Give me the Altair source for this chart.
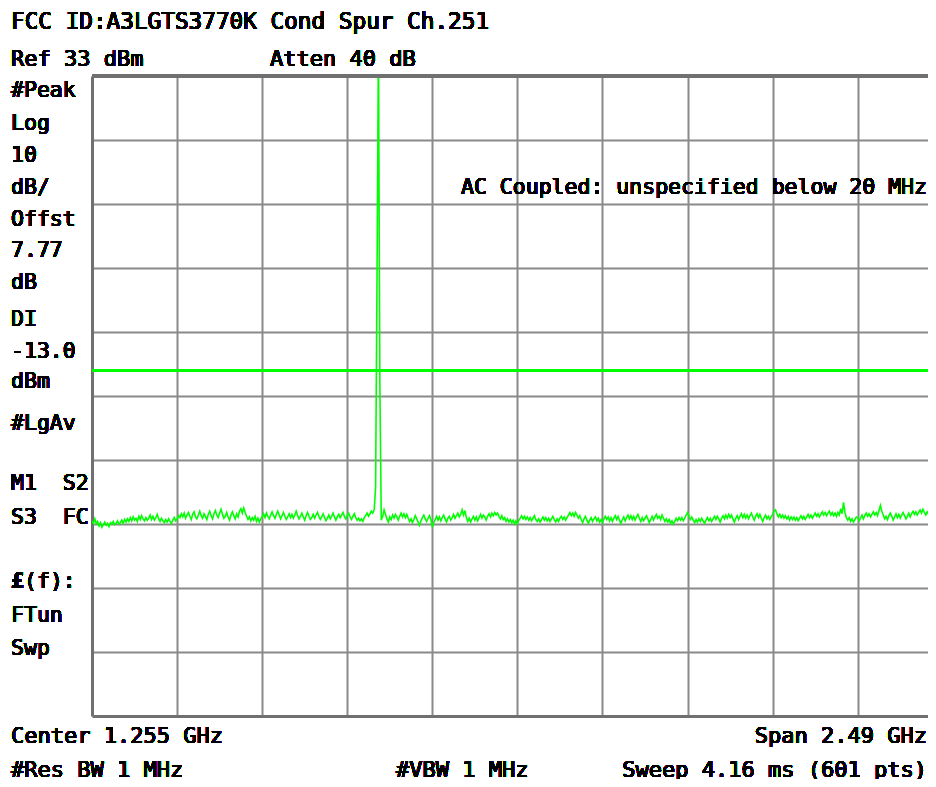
import altair as alt
import pandas as pd
import numpy as np

# ---------------- data ----------------
START_GHZ = 0.01
STOP_GHZ = 2.50
N_POINTS = 601
REF_LEVEL = 33.0       # dBm (top of screen)
DB_PER_DIV = 10.0
N_DIV = 10
DISPLAY_LINE = -13.0   # dBm

TRACE_DBM = [
    # i 0-199
    -36.5,-36.9,-36.2,-37.0,-36.6,-37.3,-36.8,-37.5,-37.1,-36.7,-37.2,-36.9,-37.4,-36.8,-37.0,-36.6,-37.1,-36.9,-36.5,-37.0,
    -36.8,-36.4,-36.9,-36.3,-36.7,-36.2,-36.6,-36.0,-36.5,-35.9,-36.4,-36.1,-36.6,-35.8,-36.3,-35.7,-36.2,-36.5,-36.0,-36.4,
    -36.1,-35.6,-36.3,-35.8,-36.4,-36.0,-35.5,-36.2,-36.6,-36.1,-36.5,-36.8,-36.3,-36.7,-36.2,-36.6,-36.9,-36.4,-36.0,-36.5,
    -36.2,-35.7,-36.0,-35.4,-35.9,-35.3,-36.1,-35.6,-35.2,-35.8,-36.3,-35.5,-35.1,-35.9,-36.2,-35.6,-35.0,-35.7,-36.1,-35.4,
    -35.8,-36.3,-35.5,-35.0,-35.7,-36.2,-35.4,-34.9,-35.6,-36.0,-35.3,-34.7,-35.5,-36.1,-35.8,-35.2,-35.9,-36.4,-35.6,-35.1,
    -35.7,-36.2,-35.4,-35.9,-35.0,-34.6,-35.3,-34.5,-35.2,-35.8,-36.3,-35.9,-36.5,-36.0,-36.4,-35.8,-36.6,-36.1,-36.7,-36.2,
    -35.9,-35.4,-36.0,-35.3,-35.8,-36.2,-35.6,-35.1,-35.7,-36.1,-35.5,-35.0,-35.6,-36.2,-35.7,-35.2,-35.8,-36.3,-35.9,-35.4,
    -36.0,-35.5,-36.1,-35.6,-35.0,-35.7,-36.2,-35.8,-35.3,-35.9,-36.4,-35.7,-35.2,-35.8,-36.3,-36.0,-35.5,-36.1,-35.6,-35.2,
    -35.8,-36.3,-35.9,-35.4,-36.0,-36.5,-36.1,-35.6,-36.2,-35.8,-35.3,-35.9,-36.4,-35.9,-35.5,-36.0,-35.6,-35.2,-35.8,-36.2,
    -35.7,-35.3,-35.9,-36.3,-35.8,-35.4,-36.0,-36.4,-36.1,-36.5,-36.2,-36.6,-36.0,-35.7,-35.3,-35.8,-35.4,-35.0,-35.3,-34.8,
    # i 200-204 : carrier (Ch.251)
    -31.3, 1.5, 38.0, -15.0, -36.4,
    # i 205-219
    -35.8,-34.8,-35.5,-36.2,-36.7,-35.9,-36.3,-35.6,-36.1,-35.5,-35.9,-36.4,-35.8,-35.3,-35.9,
    # i 220-579
    -35.4,-36.0,-35.5,-36.1,-36.6,-36.2,-36.8,-36.3,-35.7,-36.2,-36.7,-37.2,-36.5,-36.0,-35.6,-36.2,-36.6,-36.1,-35.7,-36.3,
    -37.5,-36.8,-36.3,-35.8,-36.4,-35.9,-36.5,-36.0,-35.6,-36.2,-36.7,-36.1,-35.8,-36.4,-36.0,-35.5,-36.1,-35.7,-35.3,-35.9,
    -35.5,-34.8,-35.6,-34.9,-36.0,-36.6,-36.1,-36.7,-36.2,-35.8,-36.4,-35.9,-36.5,-36.0,-35.5,-36.1,-35.6,-35.9,-36.4,-35.8,
    -35.4,-35.9,-35.3,-35.7,-35.2,-35.6,-35.3,-35.8,-36.2,-35.7,-36.3,-36.0,-36.6,-36.2,-36.7,-36.3,-36.8,-36.4,-37.0,-36.5,
    -36.9,-36.4,-36.1,-35.7,-36.2,-35.8,-36.3,-35.9,-36.4,-36.0,-36.5,-36.1,-35.7,-36.3,-36.6,-36.2,-36.7,-36.3,-35.9,-36.4,
    -36.0,-36.5,-36.1,-36.6,-36.2,-35.8,-36.3,-36.7,-36.2,-36.6,-36.1,-35.8,-36.3,-35.9,-36.4,-36.0,-35.6,-35.2,-35.7,-35.3,
    -35.8,-35.2,-35.6,-36.1,-35.7,-36.3,-36.8,-36.2,-35.8,-36.4,-36.9,-36.4,-36.0,-36.6,-36.2,-35.9,-36.5,-36.1,-36.7,-36.3,
    -36.8,-36.2,-35.8,-36.3,-35.9,-36.5,-36.0,-36.6,-36.1,-35.7,-36.3,-35.8,-36.4,-36.9,-36.3,-35.9,-36.5,-36.0,-35.6,-36.2,
    -35.7,-36.3,-35.8,-36.4,-35.9,-35.5,-36.1,-36.6,-36.0,-36.5,-36.1,-35.7,-36.2,-36.8,-36.3,-35.8,-36.4,-35.9,-35.5,-36.1,
    -35.8,-36.3,-35.6,-36.1,-36.6,-36.2,-36.7,-36.3,-36.9,-36.5,-37.0,-36.6,-36.1,-36.5,-36.0,-36.4,-36.0,-36.5,-36.1,-35.6,
    -35.2,-35.8,-36.3,-35.9,-36.4,-36.8,-36.3,-36.7,-36.2,-36.6,-36.1,-36.5,-36.9,-36.4,-36.0,-36.5,-36.1,-36.6,-36.2,-35.8,
    -36.3,-35.8,-36.2,-36.7,-36.1,-35.7,-36.2,-35.6,-36.1,-35.5,-36.0,-35.6,-36.2,-36.7,-36.1,-35.7,-36.3,-35.8,-35.4,-36.0,
    -35.5,-36.1,-35.6,-36.2,-35.7,-35.3,-35.9,-36.4,-35.8,-35.4,-36.0,-35.5,-36.1,-36.6,-36.0,-35.6,-36.2,-35.8,-36.3,-35.9,
    -35.5,-35.0,-34.8,-35.4,-35.9,-35.5,-36.0,-35.6,-36.1,-35.7,-36.2,-35.8,-36.4,-35.9,-36.3,-35.9,-36.4,-36.0,-36.5,-36.1,
    -35.7,-36.2,-35.8,-36.3,-35.9,-35.5,-36.0,-35.6,-36.1,-35.7,-35.3,-35.8,-35.4,-35.9,-35.5,-35.1,-35.6,-35.2,-35.7,-35.3,
    -35.0,-35.6,-35.2,-35.7,-35.3,-35.8,-35.2,-35.6,-34.6,-35.4,-33.6,-35.2,-36.0,-36.4,-36.0,-36.6,-36.2,-36.7,-36.3,-35.9,
    -36.0,-36.5,-36.1,-35.6,-36.2,-35.7,-35.3,-35.8,-35.4,-35.9,-35.5,-35.1,-35.6,-35.2,-35.7,-34.9,-34.1,-35.0,-35.6,-36.2,
    -35.8,-36.3,-35.7,-35.3,-35.8,-36.4,-35.9,-35.4,-36.0,-35.5,-36.1,-35.6,-35.2,-35.7,-36.2,-35.8,-35.3,-35.9,-35.4,-35.0,
    # i 580-600
    -35.5,-35.1,-35.6,-35.2,-34.8,-35.3,-34.7,-35.2,-35.6,-35.1,-35.5,-35.0,-35.4,-35.8,-35.3,-35.7,-35.2,-35.6,-35.1,-35.5,-35.3,
]

NB = "\u00a0"
TITLE = "FCC ID:A3LGTS3770K Cond Spur Ch.251"
REF_TEXT = "Ref 33 dBm"
ATTEN_TEXT = "Atten 40 dB"
AC_TEXT = "AC Coupled: unspecified below 20 MHz"
LEFT_LABELS = ["#Peak", "Log", "10", "dB/", "Offst", "7.77", "dB", "DI", "-13.0", "dBm",
               "#LgAv", "M1" + NB + NB + "S2", "S3" + NB + NB + "FC", "(f):", "FTun", "Swp"]
POUND = "\u00a3"
CENTER_TEXT = "Center 1.255 GHz"
SPAN_TEXT = "Span 2.49 GHz"
RBW_TEXT = "#Res BW 1 MHz"
VBW_TEXT = "#VBW 1 MHz"
SWEEP_TEXT = "Sweep 4.16 ms (601 pts)"

# ---------------- layout ----------------
PLOT_W = 836          # visible part of the graticule (the screenshot is cropped on the right)
FULL_W = 850.8        # full graticule width in px
PLOT_H = 640
FONT = "DejaVu Sans Mono"
GREEN = "#00ff00"
GRID = "#8a8a8a"
FRAME = "#707070"

freqs = np.linspace(START_GHZ, STOP_GHZ, N_POINTS)
trace = pd.DataFrame({"freq": freqs[:len(TRACE_DBM)], "level": TRACE_DBM})

div_ghz = (STOP_GHZ - START_GHZ) / N_DIV
x_max = START_GHZ + (STOP_GHZ - START_GHZ) * PLOT_W / FULL_W
bottom = REF_LEVEL - DB_PER_DIV * N_DIV
x_grid = [START_GHZ + div_ghz * k for k in range(1, N_DIV)]
y_grid = [REF_LEVEL - DB_PER_DIV * k for k in range(1, N_DIV)]

xs = alt.Scale(domain=[START_GHZ, x_max], nice=False, zero=False)
ys = alt.Scale(domain=[bottom, REF_LEVEL], nice=False, zero=False)

x_enc = alt.X("freq:Q", scale=xs, axis=alt.Axis(values=x_grid, grid=True, labels=False, ticks=False,
              domain=True, domainColor=FRAME, domainWidth=3, gridColor=GRID, gridWidth=2,
              gridOpacity=1, title=None))
y_enc = alt.Y("level:Q", scale=ys, axis=alt.Axis(values=y_grid, grid=True, labels=False, ticks=False,
              domain=True, domainColor=FRAME, domainWidth=3, gridColor=GRID, gridWidth=2,
              gridOpacity=1, title=None))

line = alt.Chart(trace).mark_line(color=GREEN, strokeWidth=1.6, clip=True).encode(x=x_enc, y=y_enc)

dl = alt.Chart(trace).mark_rule(color=GREEN, strokeWidth=1.5).encode(y=alt.datum(DISPLAY_LINE))
top_frame = alt.Chart(trace).mark_rule(color=FRAME, strokeWidth=3).encode(y=alt.datum(REF_LEVEL))


def label(txt, x, y, size=22.0, align="left", weight="normal"):
    return alt.Chart(trace).mark_text(
        font=FONT, fontSize=size, align=align, baseline="alphabetic",
        color="#000000", fontWeight=weight
    ).encode(x=alt.value(x), y=alt.value(y), text=alt.value(txt))


OX, OY = 92, 76        # page position of the graticule's top-left corner
LX = 11 - OX
RX = 927 - OX
texts = [
    label(TITLE, LX, 29.3 - OY, 22.7),
    label(REF_TEXT, LX, 66 - OY, 22.0),
    label(ATTEN_TEXT, 270 - OX, 66 - OY, 22.0),
    label(AC_TEXT, RX, 194.3 - OY, 21.5, align="right"),
    label(CENTER_TEXT, LX, 743 - OY, 22.0),
    label(SPAN_TEXT, RX, 743 - OY, 22.0, align="right"),
    label(RBW_TEXT, LX, 777 - OY, 22.0),
    label(VBW_TEXT, 396 - OX, 777 - OY, 22.0),
    label(SWEEP_TEXT, RX, 777 - OY, 22.0, align="right"),
]
left_centers = [89, 121.5, 153.5, 186, 218, 249, 281, 318, 350, 380, 421.5, 482, 516, 580, 614, 647]
for txt, cy in zip(LEFT_LABELS, left_centers):
    xx = LX + 13 if txt == "(f):" else LX
    texts.append(label(txt, xx, cy + 8.3 - OY, 21.5))
texts.append(label(POUND, LX, 580 + 8.3 - OY, 21.5, weight="bold"))

chart = alt.layer(line, dl, top_frame, *texts).properties(
    width=PLOT_W, height=PLOT_H,
    autosize=alt.AutoSizeParams(type="none"),
    padding={"left": OX - 8, "top": OY - 8, "right": 0, "bottom": 63},
    background="white",
).configure_view(stroke=None)

chart.save("out.html", embed_options={"renderer": "svg", "actions": False})
